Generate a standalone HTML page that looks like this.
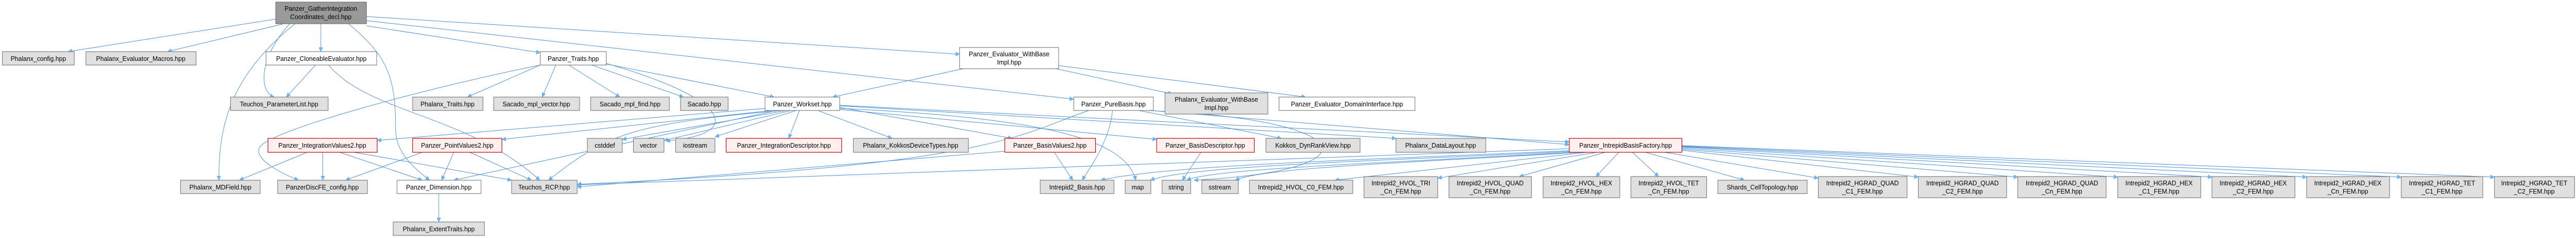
<!DOCTYPE html>
<html><head><meta charset="utf-8"><style>
html,body{margin:0;padding:0;background:#fff;width:100%;height:100%;overflow:hidden;}
svg{display:block;width:100%;height:100%;}
text{font-family:"Liberation Sans",sans-serif;font-size:13px;fill:#000;text-anchor:middle;}
.g{fill:#e0e0e0;stroke:#666;stroke-width:1}
.w{fill:#fff;stroke:#666;stroke-width:1}
.r{fill:#fff0f0;stroke:#c00000;stroke-width:1.2}
.k{fill:#999;stroke:#666;stroke-width:1}
path{fill:none;stroke:#4a8fd4;stroke-width:1}
</style></head><body>
<svg viewBox="0 0 5307 461" preserveAspectRatio="none" xmlns="http://www.w3.org/2000/svg">
<defs><marker id="a" viewBox="0 0 10 10" refX="10" refY="5" markerWidth="10" markerHeight="8" markerUnits="userSpaceOnUse" orient="auto"><path d="M0,0 L10,5 L0,10 z" style="fill:#63b8ff;stroke:#4a8fd4;stroke-width:0.5"/></marker></defs>
<g marker-end="url(#a)">
<path d="M568,37 L140,100"/>
<path d="M585,46 L345,100"/>
<path d="M661,46 L661,100"/>
<path d="M597,46 C530,115 535,180 565,188"/>
<path d="M608,46 C470,150 450,250 451,349"/>
<path d="M718,46 C800,110 815,150 815,250 C815,300 860,330 885,349"/>
<path d="M755,50 L1113,102"/>
<path d="M755,32 L1977,105"/>
<path d="M755,40 L2212,192"/>
<path d="M1113,126 L963,188"/>
<path d="M1145,126 L1117,188"/>
<path d="M1172,126 L1277,188"/>
<path d="M1219,126 L1408,188"/>
<path d="M1249,124 L1595,188"/>
<path d="M1249,123 C1500,190 1540,260 1372,273"/>
<path d="M1113,126 C900,166 560,250 535,285 C520,310 590,340 615,349"/>
<path d="M650,126 L590,188"/>
<path d="M677,126 C760,220 960,220 1112,349"/>
<path d="M1576,210 L777,272"/>
<path d="M1590,214 L1034,270"/>
<path d="M1620,214 L1282,270"/>
<path d="M1630,214 L1368,272"/>
<path d="M1640,214 L1473,265"/>
<path d="M1647,214 L1625,268"/>
<path d="M1685,214 L1838,268"/>
<path d="M1600,214 L935,349"/>
<path d="M1610,214 C1300,240 1250,260 1130,349"/>
<path d="M1730,208 L2085,268"/>
<path d="M1730,212 L2383,270"/>
<path d="M1730,205 L2876,268"/>
<path d="M1730,204 L3233,275"/>
<path d="M1730,210 C2200,230 2320,280 2340,349"/>
<path d="M1985,133 L1715,188"/>
<path d="M2175,133 L2415,182"/>
<path d="M2181,127 L2690,188"/>
<path d="M2292,214 C2285,280 2240,330 2230,349"/>
<path d="M2243,214 C2100,260 2050,320 1189,357"/>
<path d="M2346,214 L2640,268"/>
<path d="M2370,214 L3233,280"/>
<path d="M2360,214 C2800,230 2850,330 2460,349"/>
<path d="M2172,295 L2210,349"/>
<path d="M2070,293 L1189,362"/>
<path d="M2474,295 L2436,349"/>
<path d="M633,295 L493,349"/>
<path d="M665,295 L665,349"/>
<path d="M700,295 L870,349"/>
<path d="M730,295 L1054,349"/>
<path d="M870,295 L712,349"/>
<path d="M935,295 L910,349"/>
<path d="M968,295 L1095,349"/>
<path d="M904,375 L904,430"/>
<path d="M3233,288 L1189,358"/>
<path d="M3233,292 C2800,310 2400,320 2268,349"/>
<path d="M3240,293 C2900,310 2450,320 2370,349"/>
<path d="M3250,294 C2900,315 2500,325 2445,349"/>
<path d="M3260,295 C2900,315 2600,325 2545,349"/>
<path d="M3270,295 L2750,349"/>
<path d="M3290,295 L2962,345"/>
<path d="M3307,295 L3130,342"/>
<path d="M3335,295 L3288,342"/>
<path d="M3363,295 L3417,342"/>
<path d="M3390,295 L3594,349"/>
<path d="M3430,295 L3746,345"/>
<path d="M3465,291 L3952,343"/>
<path d="M3465,289 L4157,343"/>
<path d="M3465,287 L4363,343"/>
<path d="M3465,285 L4557,343"/>
<path d="M3465,284 L4752,343"/>
<path d="M3465,283 L4947,343"/>
<path d="M3465,282 L5139,343"/>
</g>

<rect class="k" x="568" y="4" width="187" height="42"/><text x="661" y="21">Panzer_GatherIntegration</text><text x="661" y="37">Coordinates_decl.hpp</text>

<rect class="g" x="5" y="100" width="148" height="26"/><text x="79" y="118">Phalanx_config.hpp</text>
<rect class="g" x="177" y="100" width="227" height="26"/><text x="290" y="118">Phalanx_Evaluator_Macros.hpp</text>
<rect class="w" x="548" y="100" width="228" height="26"/><text x="662" y="118">Panzer_CloneableEvaluator.hpp</text>
<rect class="w" x="1113" y="100" width="136" height="26"/><text x="1181" y="118">Panzer_Traits.hpp</text>
<rect class="w" x="1977" y="92" width="204" height="41"/><text x="2079" y="109">Panzer_Evaluator_WithBase</text><text x="2079" y="125">Impl.hpp</text>

<rect class="g" x="475" y="188" width="201" height="26"/><text x="575" y="206">Teuchos_ParameterList.hpp</text>
<rect class="g" x="850" y="188" width="145" height="26"/><text x="922" y="206">Phalanx_Traits.hpp</text>
<rect class="g" x="1017" y="188" width="177" height="26"/><text x="1105" y="206">Sacado_mpl_vector.hpp</text>
<rect class="g" x="1217" y="188" width="162" height="26"/><text x="1298" y="206">Sacado_mpl_find.hpp</text>
<rect class="g" x="1402" y="188" width="98" height="26"/><text x="1451" y="206">Sacado.hpp</text>
<rect class="w" x="1576" y="188" width="154" height="26"/><text x="1653" y="206">Panzer_Workset.hpp</text>
<rect class="w" x="2212" y="188" width="164" height="26"/><text x="2294" y="206">Panzer_PureBasis.hpp</text>
<rect class="g" x="2400" y="180" width="212" height="41"/><text x="2506" y="197">Phalanx_Evaluator_WithBase</text><text x="2506" y="213">Impl.hpp</text>
<rect class="w" x="2635" y="188" width="280" height="26"/><text x="2775" y="206">Panzer_Evaluator_DomainInterface.hpp</text>

<rect class="r" x="552" y="268" width="225" height="27"/><text x="664" y="286">Panzer_IntegrationValues2.hpp</text>
<rect class="r" x="850" y="268" width="184" height="27"/><text x="942" y="286">Panzer_PointValues2.hpp</text>
<rect class="g" x="1210" y="268" width="72" height="27"/><text x="1246" y="286">cstddef</text>
<rect class="g" x="1305" y="268" width="63" height="27"/><text x="1336" y="286">vector</text>
<rect class="g" x="1392" y="268" width="81" height="27"/><text x="1432" y="286">iostream</text>
<rect class="r" x="1496" y="268" width="238" height="27"/><text x="1615" y="286">Panzer_IntegrationDescriptor.hpp</text>
<rect class="g" x="1758" y="268" width="237" height="27"/><text x="1876" y="286">Phalanx_KokkosDeviceTypes.hpp</text>
<rect class="r" x="2070" y="268" width="187" height="27"/><text x="2163" y="286">Panzer_BasisValues2.hpp</text>
<rect class="r" x="2383" y="268" width="201" height="27"/><text x="2483" y="286">Panzer_BasisDescriptor.hpp</text>
<rect class="g" x="2608" y="268" width="194" height="27"/><text x="2705" y="286">Kokkos_DynRankView.hpp</text>
<rect class="g" x="2876" y="268" width="185" height="27"/><text x="2968" y="286">Phalanx_DataLayout.hpp</text>
<rect class="r" x="3233" y="268" width="232" height="27"/><text x="3349" y="286">Panzer_IntrepidBasisFactory.hpp</text>

<rect class="g" x="372" y="349" width="164" height="26"/><text x="454" y="367">Phalanx_MDField.hpp</text>
<rect class="g" x="572" y="349" width="185" height="26"/><text x="664" y="367">PanzerDiscFE_config.hpp</text>
<rect class="w" x="818" y="349" width="173" height="26"/><text x="904" y="367">Panzer_Dimension.hpp</text>
<rect class="g" x="1054" y="349" width="135" height="26"/><text x="1121" y="367">Teuchos_RCP.hpp</text>
<rect class="g" x="2143" y="349" width="152" height="26"/><text x="2219" y="367">Intrepid2_Basis.hpp</text>
<rect class="g" x="2318" y="349" width="53" height="26"/><text x="2344" y="367">map</text>
<rect class="g" x="2394" y="349" width="59" height="26"/><text x="2423" y="367">string</text>
<rect class="g" x="2476" y="349" width="75" height="26"/><text x="2513" y="367">sstream</text>
<rect class="g" x="2574" y="349" width="213" height="26"/><text x="2680" y="367">Intrepid2_HVOL_C0_FEM.hpp</text>
<rect class="g" x="3539" y="349" width="184" height="26"/><text x="3631" y="367">Shards_CellTopology.hpp</text>

<rect class="g" x="2810" y="342" width="152" height="41"/><text x="2886" y="359">Intrepid2_HVOL_TRI</text><text x="2886" y="375">_Cn_FEM.hpp</text>
<rect class="g" x="2985" y="342" width="170" height="41"/><text x="3070" y="359">Intrepid2_HVOL_QUAD</text><text x="3070" y="375">_Cn_FEM.hpp</text>
<rect class="g" x="3179" y="342" width="158" height="41"/><text x="3258" y="359">Intrepid2_HVOL_HEX</text><text x="3258" y="375">_Cn_FEM.hpp</text>
<rect class="g" x="3360" y="342" width="156" height="41"/><text x="3438" y="359">Intrepid2_HVOL_TET</text><text x="3438" y="375">_Cn_FEM.hpp</text>
<rect class="g" x="3746" y="342" width="183" height="41"/><text x="3837" y="359">Intrepid2_HGRAD_QUAD</text><text x="3837" y="375">_C1_FEM.hpp</text>
<rect class="g" x="3952" y="342" width="182" height="41"/><text x="4043" y="359">Intrepid2_HGRAD_QUAD</text><text x="4043" y="375">_C2_FEM.hpp</text>
<rect class="g" x="4157" y="342" width="182" height="41"/><text x="4248" y="359">Intrepid2_HGRAD_QUAD</text><text x="4248" y="375">_Cn_FEM.hpp</text>
<rect class="g" x="4363" y="342" width="171" height="41"/><text x="4448" y="359">Intrepid2_HGRAD_HEX</text><text x="4448" y="375">_C1_FEM.hpp</text>
<rect class="g" x="4557" y="342" width="171" height="41"/><text x="4642" y="359">Intrepid2_HGRAD_HEX</text><text x="4642" y="375">_C2_FEM.hpp</text>
<rect class="g" x="4752" y="342" width="171" height="41"/><text x="4837" y="359">Intrepid2_HGRAD_HEX</text><text x="4837" y="375">_Cn_FEM.hpp</text>
<rect class="g" x="4947" y="342" width="168" height="41"/><text x="5031" y="359">Intrepid2_HGRAD_TET</text><text x="5031" y="375">_C1_FEM.hpp</text>
<rect class="g" x="5139" y="342" width="165" height="41"/><text x="5221" y="359">Intrepid2_HGRAD_TET</text><text x="5221" y="375">_C2_FEM.hpp</text>

<rect class="g" x="810" y="430" width="188" height="26"/><text x="904" y="448">Phalanx_ExtentTraits.hpp</text>
</svg>
</body></html>
